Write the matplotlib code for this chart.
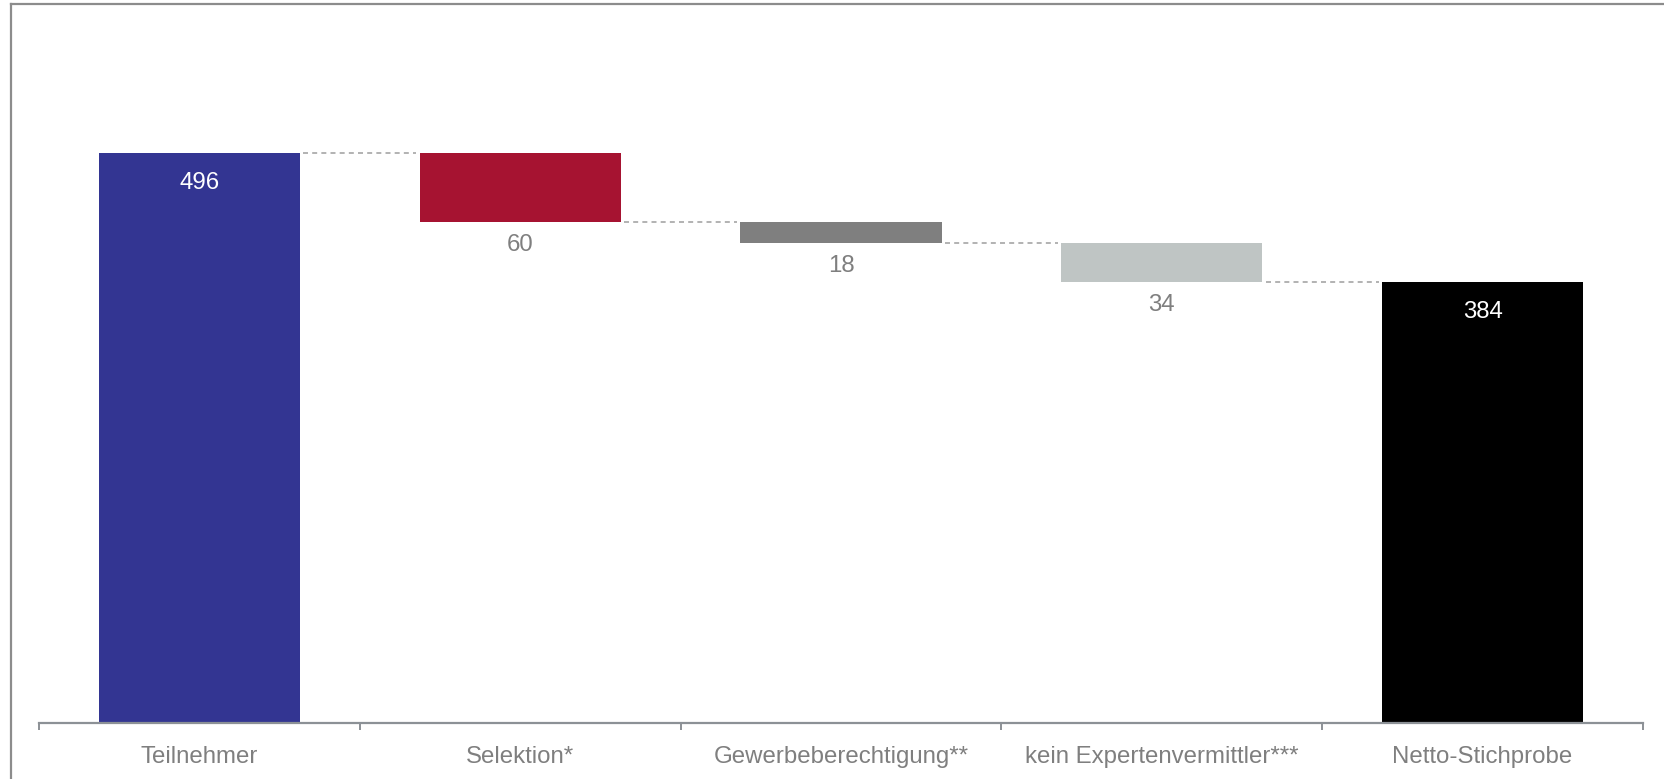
import matplotlib
matplotlib.use("Agg")
import matplotlib.pyplot as plt
from matplotlib.lines import Line2D
import numpy as np

categories = ["Teilnehmer", "Selektion*", "Gewerbeberechtigung**",
              "kein Expertenvermittler***", "Netto-Stichprobe"]
values = [496, -60, -18, -34, 384]
is_total = [True, False, False, False, True]
colors = ["#333592", "#A61331", "#7F7F7F", "#BFC5C4", "#000000"]

plt.rcParams['font.family'] = ['Liberation Sans', 'DejaVu Sans']

W, H = 1664, 779
fig = plt.figure(figsize=(W / 100, H / 100), dpi=100)
ax_left, ax_right, ax_bottom, ax_toppx = 39, 1643, 723, 33.5
ax = fig.add_axes([ax_left / W, (H - ax_bottom) / H,
                   (ax_right - ax_left) / W, (ax_bottom - ax_toppx) / H])

n = len(categories)
x = np.arange(n)
width = 0.627

bottoms, heights = [], []
level = 0
for v, tot in zip(values, is_total):
    if tot:
        bottoms.append(0)
        heights.append(v)
        level = v
    else:
        new = level + v
        bottoms.append(new)
        heights.append(-v)
        level = new

ax.bar(x, heights, bottom=bottoms, width=width, color=colors, zorder=2)

# connectors
tops = [b + h for b, h in zip(bottoms, heights)]
for i in range(n - 1):
    lvl = tops[i] if (is_total[i]) else bottoms[i]
    ax.plot([x[i] + width / 2 + 0.01, x[i + 1] - width / 2 - 0.01], [lvl, lvl],
            ls=(0, (3, 2.5)), color="#A6A6A6", lw=1.2, zorder=1)

# value labels
for i in range(n):
    if is_total[i]:
        ax.annotate(str(abs(values[i])), (x[i], tops[i]), xytext=(0, -21.5),
                    textcoords="offset points", ha="center", va="center",
                    color="white", fontsize=17.3)
    else:
        ax.annotate(str(abs(values[i])), (x[i], bottoms[i]), xytext=(0, -16.5),
                    textcoords="offset points", ha="center", va="center",
                    color="#7F7F7F", fontsize=17.3)

ax.set_xlim(-0.5, n - 0.5)
ax.set_ylim(0, 496 * (ax_bottom - ax_toppx) / 570)

for s in ["top", "right", "left"]:
    ax.spines[s].set_visible(False)
ax.spines["bottom"].set_color("#8C9196")
ax.spines["bottom"].set_linewidth(1.6)
ax.set_yticks([])
ax.set_xticks(x)
ax.set_xticklabels(categories, fontsize=17.3, color="#7F7F7F")
ax.tick_params(axis="x", which="major", length=0, pad=16.5)
ax.set_xticks(np.arange(-0.5, n, 1.0), minor=True)
ax.tick_params(axis="x", which="minor", length=5, width=1.4, color="#8C9196",
               direction="out")

# outer frame (top and left)
fig.add_artist(Line2D([10.5 / W, 10.5 / W], [0, 1 - 4 / H], color="#8C8C8C",
                      lw=1.6, transform=fig.transFigure))
fig.add_artist(Line2D([10.5 / W, 1], [1 - 4 / H, 1 - 4 / H], color="#8C8C8C",
                      lw=1.6, transform=fig.transFigure))

fig.savefig("out.png", dpi=100)
